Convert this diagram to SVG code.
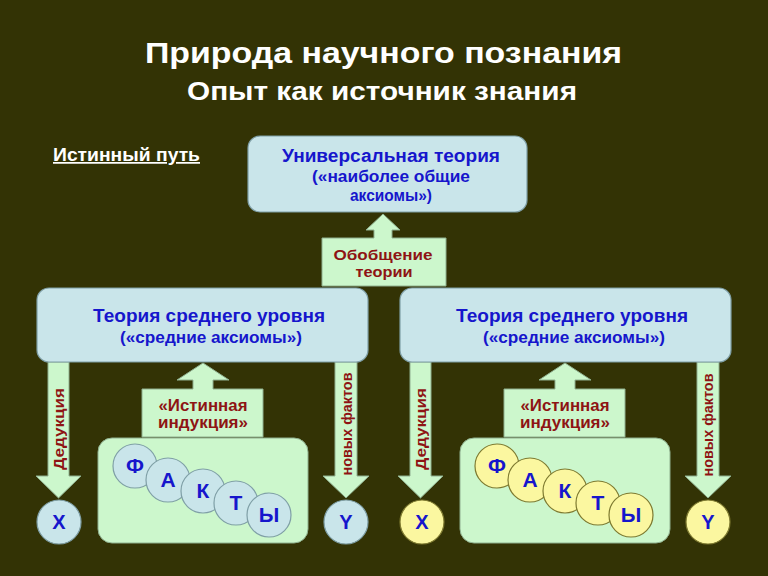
<svg xmlns="http://www.w3.org/2000/svg" width="768" height="576" viewBox="0 0 768 576">
<defs>
<style>
.t{font-family:"Liberation Sans",Arial,sans-serif;font-weight:bold}
.title{fill:#ffffff;text-anchor:middle}
.blue{fill:#c9e5ea;stroke:#7f9fa6;stroke-width:1.2}
.green{fill:#ccf7cc;stroke:#8fb08f;stroke-width:1}
.yel{fill:#fbf7a0;stroke:#7e7a30;stroke-width:1.2}
.bt{fill:#1616cc;text-anchor:middle}
.rt{fill:#8e1414;text-anchor:middle}
</style>
</defs>
<rect width="768" height="576" fill="#333305"/>
<g id="title">
<text class="t title" x="383.5" y="63" font-size="30" textLength="477" lengthAdjust="spacingAndGlyphs">Природа научного познания</text>
<text class="t title" x="382" y="100" font-size="26" textLength="390" lengthAdjust="spacingAndGlyphs">Опыт как источник знания</text>
</g>
<g id="true-path">
<text class="t" x="53" y="161" font-size="17.5" fill="#ffffff" text-decoration="underline" textLength="147" lengthAdjust="spacingAndGlyphs">Истинный путь</text>
</g>
<g id="connectors">
<g id="arrow-generalization">
<path class="green" d="M322,238 L374,238 L374,230 L366,230 L383,214 L400,230 L392,230 L392,238 L446,238 L446,286 L322,286 Z"/>
<text class="t rt" x="383" y="260" font-size="15.5" textLength="99" lengthAdjust="spacingAndGlyphs">Обобщение</text>
<text class="t rt" x="384" y="277" font-size="15.5" textLength="57" lengthAdjust="spacingAndGlyphs">теории</text>
</g>
<g id="arrow-induction-left">
<path class="green" d="M142,389 L193,389 L193,380 L177,380 L203,363 L229,380 L213,380 L213,389 L263,389 L263,437 L142,437 Z"/>
<text class="t rt" x="203" y="411" font-size="16.5" textLength="89" lengthAdjust="spacingAndGlyphs">«Истинная</text>
<text class="t rt" x="203" y="428" font-size="16.5" textLength="90" lengthAdjust="spacingAndGlyphs">индукция»</text>
</g>
<g id="arrow-induction-right">
<path class="green" d="M504,389 L555,389 L555,380 L539,380 L565,363 L591,380 L575,380 L575,389 L625,389 L625,437 L504,437 Z"/>
<text class="t rt" x="565" y="411" font-size="16.5" textLength="89" lengthAdjust="spacingAndGlyphs">«Истинная</text>
<text class="t rt" x="565" y="428" font-size="16.5" textLength="90" lengthAdjust="spacingAndGlyphs">индукция»</text>
</g>
<g id="arrow-deduction-left">
<path class="green" d="M48,362 L69,362 L69,476 L81,476 L58.5,498 L36,476 L48,476 Z"/>
<text class="t rt" transform="translate(64,429) rotate(-90)" font-size="15" textLength="82" lengthAdjust="spacingAndGlyphs">Дедукция</text>
</g>
<g id="arrow-facts-left">
<path class="green" d="M335,362 L357,362 L357,476 L369,476 L346,498 L323,476 L335,476 Z"/>
<text class="t rt" transform="translate(352,424) rotate(-90)" font-size="14" textLength="103" lengthAdjust="spacingAndGlyphs">новых фактов</text>
</g>
<g id="arrow-deduction-right">
<path class="green" d="M410,362 L431,362 L431,476 L443,476 L420.5,498 L398,476 L410,476 Z"/>
<text class="t rt" transform="translate(426,429) rotate(-90)" font-size="15" textLength="82" lengthAdjust="spacingAndGlyphs">Дедукция</text>
</g>
<g id="arrow-facts-right">
<path class="green" d="M697,362 L719,362 L719,476 L731,476 L708,498 L685,476 L697,476 Z"/>
<text class="t rt" transform="translate(713,425) rotate(-90)" font-size="14" textLength="103" lengthAdjust="spacingAndGlyphs">новых фактов</text>
</g>
</g>
<g id="universal">
<rect class="blue" x="248" y="136" width="279" height="76" rx="12"/>
<text class="t bt" x="391" y="162" font-size="18" textLength="218" lengthAdjust="spacingAndGlyphs">Универсальная теория</text>
<text class="t bt" x="391" y="182" font-size="16.5" textLength="158" lengthAdjust="spacingAndGlyphs">(«наиболее общие</text>
<text class="t bt" x="391" y="201" font-size="16.5" textLength="82" lengthAdjust="spacingAndGlyphs">аксиомы»)</text>
</g>
<g id="middle-left">
<rect class="blue" x="37" y="288" width="331" height="74" rx="12"/>
<text class="t bt" x="209" y="322" font-size="18" textLength="232" lengthAdjust="spacingAndGlyphs">Теория среднего уровня</text>
<text class="t bt" x="211" y="343" font-size="16" textLength="182" lengthAdjust="spacingAndGlyphs">(«средние аксиомы»)</text>
</g>
<g id="middle-right">
<rect class="blue" x="400" y="288" width="331" height="74" rx="12"/>
<text class="t bt" x="572" y="322" font-size="18" textLength="232" lengthAdjust="spacingAndGlyphs">Теория среднего уровня</text>
<text class="t bt" x="574" y="343" font-size="16" textLength="182" lengthAdjust="spacingAndGlyphs">(«средние аксиомы»)</text>
</g>
<g id="facts-left">
<rect class="green" x="98" y="438" width="210" height="105" rx="14"/>
<g font-size="21">
<circle class="blue" cx="135" cy="466" r="22"/><text class="t bt" x="135" y="473">Ф</text>
<circle class="blue" cx="168" cy="480" r="22"/><text class="t bt" x="168" y="487">А</text>
<circle class="blue" cx="203" cy="491" r="22"/><text class="t bt" x="203" y="498">К</text>
<circle class="blue" cx="236" cy="503" r="22"/><text class="t bt" x="236" y="510">Т</text>
<circle class="blue" cx="269" cy="515" r="22"/><text class="t bt" x="269" y="522">Ы</text>
</g>
</g>
<g id="facts-right">
<rect class="green" x="460" y="438" width="210" height="105" rx="14"/>
<g font-size="21">
<circle class="yel" cx="497" cy="466" r="22"/><text class="t bt" x="497" y="473">Ф</text>
<circle class="yel" cx="530" cy="480" r="22"/><text class="t bt" x="530" y="487">А</text>
<circle class="yel" cx="565" cy="491" r="22"/><text class="t bt" x="565" y="498">К</text>
<circle class="yel" cx="598" cy="503" r="22"/><text class="t bt" x="598" y="510">Т</text>
<circle class="yel" cx="631" cy="515" r="22"/><text class="t bt" x="631" y="522">Ы</text>
</g>
</g>
<g id="x-left"><circle class="blue" cx="59" cy="522" r="22"/><text class="t bt" x="59" y="529" font-size="20">X</text></g>
<g id="y-left"><circle class="blue" cx="346" cy="522" r="22"/><text class="t bt" x="346" y="529" font-size="20">Y</text></g>
<g id="x-right"><circle class="yel" cx="422" cy="522" r="22"/><text class="t bt" x="422" y="529" font-size="20">X</text></g>
<g id="y-right"><circle class="yel" cx="708" cy="522" r="22"/><text class="t bt" x="708" y="529" font-size="20">Y</text></g>
</svg>
